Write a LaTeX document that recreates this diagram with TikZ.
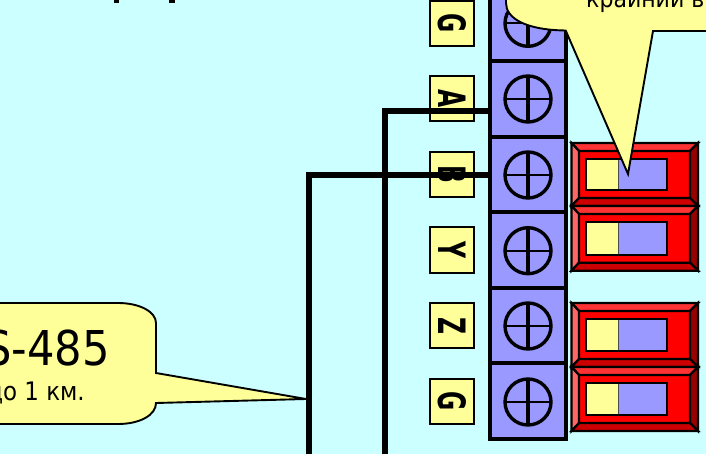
\documentclass[tikz,border=0pt]{standalone}
\usepackage{fontspec}
\usepackage{graphicx}
\setmainfont{DejaVu Sans Condensed}
\definecolor{bgc}{HTML}{CCFFFF}
\definecolor{yel}{HTML}{FFFF99}
\definecolor{blu}{HTML}{9999FF}
\definecolor{rtop}{HTML}{FF3333}
\definecolor{rleft}{HTML}{FF6666}
\definecolor{rright}{HTML}{990000}
\definecolor{rbot}{HTML}{CC0000}
\tikzset{
  cell/.style={draw=black,line width=3.4pt,fill=blu},
  screwring/.style={draw=black,line width=3.4pt},
  wire/.style={draw=black,line width=5.7pt,line join=miter},
  labelbox/.style={draw=black,line width=2pt,fill=yel,minimum width=44.5pt,minimum height=45pt,inner sep=0pt},
  labeltext/.style={font=\bfseries\fontsize{26}{26}\selectfont,rotate=-90,inner sep=0pt},
  callout/.style={draw=black,line width=1.9pt,fill=yel,line join=miter},
  bevel/.style={draw=black,line width=2.2pt,line join=miter},
}
\newcommand{\termcell}[3]{% top, bottom, centre
  \draw[cell] (490,#1) rectangle (566,#2);
  \draw[screwring] (528,#3) circle (23);
  \draw[black,line width=3.4pt] (528,#3-23) -- (528,#3+23);
  \draw[black,line width=2.4pt] (505,#3) -- (551,#3);
}
\newcommand{\redswitch}[2]{% top, bottom
  \fill[red] (571.5,#1) rectangle (698,#2);
  \draw[bevel,fill=rtop] (571.5,#1) -- (698,#1) -- (690,#1+8) -- (579,#1+8) -- cycle;
  \draw[bevel,fill=rleft] (571.5,#1) -- (579,#1+8) -- (579,#2-8) -- (571.5,#2) -- cycle;
  \draw[bevel,fill=rright] (698,#1) -- (690,#1+8) -- (690,#2-8) -- (698,#2) -- cycle;
  \draw[bevel,fill=rbot] (571.5,#2) -- (579,#2-8) -- (690,#2-8) -- (698,#2) -- cycle;
  \fill[yel] (586,#1+16) rectangle (618.7,#2-16);
  \fill[blu] (618.7,#1+16) rectangle (667,#2-16);
  \draw[black!70,line width=1.2pt] (618.7,#1+16) -- (618.7,#2-16);
  \draw[black,line width=2.4pt] (586,#1+16) rectangle (667,#2-16);
}
\newcommand{\lbltxt}[1]{\scalebox{1}[1.45]{#1}}
\begin{document}
\begin{tikzpicture}[x=1pt,y=-1pt]
\useasboundingbox (0,0) rectangle (706,454);
\clip (0,0) rectangle (706,454);
\fill[bgc] (0,0) rectangle (706,454);
% heading descenders
\fill[black] (113.5,-2) rectangle (119,3);
\fill[black] (169,-2) rectangle (175,3);
% terminal labels
\node[labelbox] (lg1) at (452,23.5) {}; \node[labeltext] at (lg1) {\lbltxt{G}};
\node[labelbox] (la) at (452,98.7) {}; \node[labeltext] at (la) {\lbltxt{A}};
\node[labelbox] (lb) at (452,174.5) {}; \node[labeltext] at (lb) {\lbltxt{B}};
\node[labelbox] (ly) at (452,250) {}; \node[labeltext] at (ly) {\lbltxt{Y}};
\node[labelbox] (lz) at (452,325.5) {}; \node[labeltext] at (lz) {\lbltxt{Z}};
\node[labelbox] (lg2) at (452,401) {}; \node[labeltext] at (lg2) {\lbltxt{G}};
% terminal block
\termcell{-15}{61}{23.3}
\termcell{61}{137}{99}
\termcell{137}{212}{175}
\termcell{212}{288}{250.7}
\termcell{288}{363}{326}
\termcell{363}{439}{402}
% wires
\coordinate (a1) at (490,110.7);
\coordinate (b1) at (490,174.7);
\draw[wire] (a1) -- (385,110.7) -- (385,460);
\draw[wire] (b1) -- (309,174.7) -- (309,460);
% switches
\redswitch{143}{206}
\redswitch{206}{270.7}
\redswitch{303}{367}
\redswitch{367}{431}
% callouts
\coordinate (tip1) at (306,399);
\draw[callout] (-20,303) -- (118,303) .. controls (140,303) and (156,312) .. (156,323)
  -- (156,373) -- (tip1) -- (156,403) .. controls (156,415) and (140,424) .. (118,424) -- (-20,424) -- cycle;
\node[anchor=base east,font=\fontsize{48}{48}\selectfont,inner sep=0pt] (t1) at (110,365) {S-485};
\node[anchor=base east,font=\fontsize{25.5}{25.5}\selectfont,inner sep=0pt] (t2) at (85,400) {до 1 км.};
\coordinate (tip2) at (628,174);
\draw[callout] (506,-10) -- (506,3) .. controls (506,18) and (525,30) .. (565.7,30.5)
  -- (tip2) -- (653,31) -- (720,31) -- (720,-10) -- cycle;
\node[anchor=base west,font=\fontsize{24.5}{24.5}\selectfont,inner sep=0pt] (t3) at (586,8) {крайний в};
\end{tikzpicture}
\end{document}
